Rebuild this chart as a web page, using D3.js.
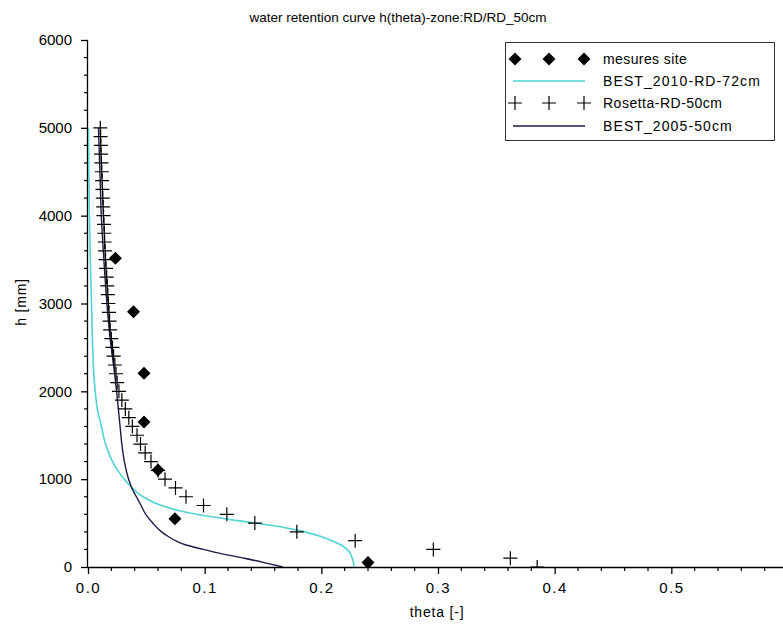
<!DOCTYPE html>
<html>
<head>
<meta charset="utf-8">
<script src="https://cdn.jsdelivr.net/npm/d3@7"></script>
<style>
  body { margin: 0; background: #fff; }
  svg { display: block; font-family: "Liberation Sans", Arial, sans-serif; }
</style>
</head>
<body>
<svg id="chart" width="783" height="626"></svg>
<script>
// Field measurements (theta [-], h [mm])
const siteTheta = [0.0235, 0.039, 0.048, 0.048, 0.060, 0.0745, 0.240];
const siteH     = [3515, 2905, 2205, 1652, 1104, 548, 50];

// BEST_2010-RD-72cm fitted curve
const best2010H     = [5000, 4500, 4000, 3500, 3000, 2500, 2200, 2000, 1800, 1600, 1400, 1300, 1200, 1100, 1000, 900, 800, 700, 650, 600, 550, 500, 450, 400, 350, 300, 250, 200, 150, 100, 50, 0];
const best2010Theta = [0.0004, 0.0007, 0.0012, 0.002, 0.003, 0.004, 0.005, 0.0062, 0.008, 0.0115, 0.015, 0.0177, 0.021, 0.0255, 0.031, 0.038, 0.047, 0.063, 0.076, 0.093, 0.117, 0.143, 0.168, 0.186, 0.199, 0.209, 0.217, 0.222, 0.225, 0.2265, 0.2275, 0.228];

// Rosetta-RD-50cm estimates, every 100 mm
const rosettaH = d3.range(0, 5001, 100);
const rosettaTheta = [0.385, 0.362, 0.296, 0.229, 0.179, 0.143, 0.119, 0.099, 0.084, 0.075,
  0.066, 0.060, 0.054, 0.049, 0.045, 0.042, 0.038, 0.035, 0.032, 0.029,
  0.0265, 0.025, 0.024, 0.023, 0.022, 0.021, 0.020, 0.019, 0.0185, 0.018,
  0.0175, 0.017, 0.0165, 0.016, 0.0155, 0.015, 0.0147, 0.0143, 0.014, 0.0137,
  0.0133, 0.013, 0.0127, 0.0124, 0.0121, 0.0118, 0.0115, 0.0112, 0.011, 0.0108, 0.0105];

// BEST_2005-50cm fitted curve
const best2005H     = [5000, 4500, 4000, 3500, 3000, 2600, 2200, 2000, 1800, 1600, 1400, 1200, 1000, 900, 800, 700, 600, 500, 400, 350, 300, 250, 200, 150, 100, 50, 0];
const best2005Theta = [0.009, 0.0102, 0.0114, 0.0136, 0.0162, 0.019, 0.0228, 0.0245, 0.026, 0.0275, 0.029, 0.0312, 0.0348, 0.0375, 0.0415, 0.0455, 0.0495, 0.0555, 0.063, 0.0685, 0.075, 0.084, 0.099, 0.115, 0.134, 0.151, 0.167];

const xTicks = [0, 0.1, 0.2, 0.3, 0.4, 0.5];
const yTicks = [0, 1000, 2000, 3000, 4000, 5000, 6000];

const svg = d3.select("#chart");
const plotLeft = 88, plotRight = 788, plotTop = 40, plotBottom = 567;

const x = d3.scaleLinear().domain([0, 0.6]).range([plotLeft, plotRight]);
const y = d3.scaleLinear().domain([0, 6000]).range([plotBottom, plotTop]);

svg.append("defs").append("clipPath").attr("id", "plotClip")
  .append("rect").attr("x", plotLeft).attr("y", plotTop)
  .attr("width", plotRight - plotLeft).attr("height", plotBottom - plotTop);

// Title
svg.append("text").attr("x", 398).attr("y", 22).attr("text-anchor", "middle")
  .attr("font-size", 13.5).attr("fill", "#000")
  .text("water retention curve h(theta)-zone:RD/RD_50cm");

// Axes
const xAxis = d3.axisBottom(x).tickValues(xTicks).tickFormat(d3.format(".1f")).tickSize(7).tickPadding(8);
const yAxis = d3.axisLeft(y).tickValues(yTicks).tickFormat(d3.format("d")).tickSize(7).tickPadding(9);

const gx = svg.append("g").attr("transform", `translate(0,${plotBottom})`).call(xAxis);
gx.select(".domain").attr("d", `M${plotLeft},0.5H${plotRight}`);
gx.selectAll(".tick text").attr("font-size", 15).attr("letter-spacing", 1.5)
  .attr("font-family", "Liberation Sans, Arial, sans-serif");
gx.selectAll(".tick line, .domain").attr("stroke", "#000").attr("stroke-width", 1.3);
gx.selectAll(".minor").data(d3.range(0, 0.601, 0.02).filter(v => Math.abs(v * 10 - Math.round(v * 10)) > 1e-6))
  .enter().append("line").attr("class", "minor")
  .attr("x1", d => x(d)).attr("x2", d => x(d)).attr("y1", 0).attr("y2", 4)
  .attr("stroke", "#000").attr("stroke-width", 1.2);

const gy = svg.append("g").attr("transform", `translate(${plotLeft},0)`).call(yAxis);
gy.select(".domain").attr("d", `M-0.5,${plotBottom}V${plotTop}`);
gy.selectAll(".tick text").attr("font-size", 15)
  .attr("font-family", "Liberation Sans, Arial, sans-serif");
gy.selectAll(".tick line, .domain").attr("stroke", "#000").attr("stroke-width", 1.3);
gy.selectAll(".minor").data(d3.range(200, 6000, 200).filter(v => v % 1000 !== 0))
  .enter().append("line").attr("class", "minor")
  .attr("x1", 0).attr("x2", -4).attr("y1", d => y(d)).attr("y2", d => y(d))
  .attr("stroke", "#000").attr("stroke-width", 1.2);

// Axis titles
svg.append("text").attr("x", 437).attr("y", 617).attr("text-anchor", "middle")
  .attr("font-size", 14).attr("letter-spacing", 0.8).text("theta [-]");
svg.append("text").attr("transform", "translate(26,302) rotate(-90)").attr("text-anchor", "middle")
  .attr("font-size", 14).attr("letter-spacing", 0.8).text("h [mm]");

const plot = svg.append("g").attr("clip-path", "url(#plotClip)");
const line = d3.line().x(d => x(d[0])).y(d => y(d[1])).curve(d3.curveMonotoneY);

// Curves
plot.append("path").datum(d3.zip(best2010Theta, best2010H))
  .attr("d", line).attr("fill", "none").attr("stroke", "#4fd3d3").attr("stroke-width", 1.6);
plot.append("path").datum(d3.zip(best2005Theta, best2005H))
  .attr("d", line).attr("fill", "none").attr("stroke", "#1c1c48").attr("stroke-width", 1.4);

// Marker shapes
const plusPath = s => `M${-s},0H${s}M0,${-s}V${s}`;
const diamondPath = s => `M0,${-s}L${s},0L0,${s}L${-s},0Z`;

plot.selectAll(".ros").data(d3.zip(rosettaTheta, rosettaH)).enter().append("path")
  .attr("class", "ros")
  .attr("transform", d => `translate(${x(d[0])},${y(d[1])})`)
  .attr("d", plusPath(7)).attr("fill", "none").attr("stroke", "#000").attr("stroke-width", 1.2);

plot.selectAll(".site").data(d3.zip(siteTheta, siteH)).enter().append("path")
  .attr("class", "site")
  .attr("transform", d => `translate(${x(d[0])},${y(d[1])})`)
  .attr("d", diamondPath(6.5)).attr("fill", "#000");

// Legend
const legend = svg.append("g");
legend.append("rect").attr("x", 505.5).attr("y", 42.5).attr("width", 269).attr("height", 98)
  .attr("fill", "#fff").attr("stroke", "#333").attr("stroke-width", 1);
const rows = [
  { label: "mesures site", type: "diamond", y: 59, spacing: 0.4 },
  { label: "BEST_2010-RD-72cm", type: "line", color: "#4fd3d3", y: 81, spacing: 1.1 },
  { label: "Rosetta-RD-50cm", type: "plus", y: 103, spacing: 0.5 },
  { label: "BEST_2005-50cm", type: "line", color: "#1c1c48", y: 126, spacing: 1.1 }
];
const symX = [515, 549, 584];
rows.forEach(r => {
  if (r.type === "line") {
    legend.append("line").attr("x1", 513).attr("x2", 585).attr("y1", r.y).attr("y2", r.y)
      .attr("stroke", r.color).attr("stroke-width", 1.6);
  } else {
    symX.forEach(sx => {
      legend.append("path").attr("transform", `translate(${sx},${r.y})`)
        .attr("d", r.type === "plus" ? plusPath(7) : diamondPath(6.5))
        .attr("fill", r.type === "plus" ? "none" : "#000")
        .attr("stroke", r.type === "plus" ? "#000" : "none").attr("stroke-width", 1.2);
    });
  }
  legend.append("text").attr("x", 603).attr("y", r.y + 5).attr("font-size", 14)
    .attr("letter-spacing", r.spacing).text(r.label);
});
</script>
</body>
</html>
